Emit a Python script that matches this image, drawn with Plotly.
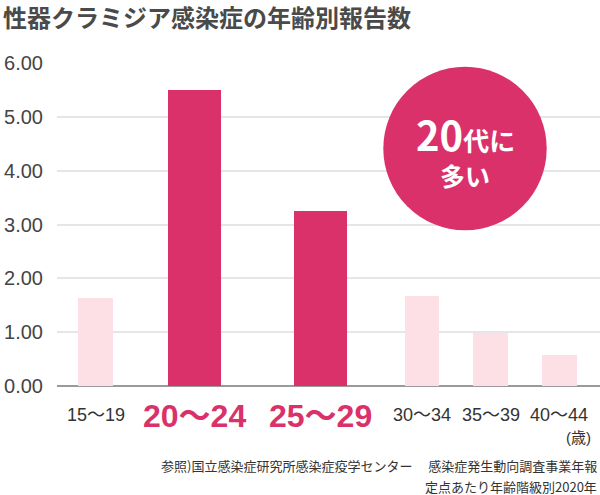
import plotly.graph_objects as go

# ---------------- data ----------------
categories = ["15～19", "20～24", "25～29", "30～34", "35～39", "40～44"]
values = [1.63, 5.49, 3.26, 1.68, 0.99, 0.57]
highlight = [False, True, True, False, False, False]
y_ticks = [0, 1, 2, 3, 4, 5, 6]
title_text = "性器クラミジア感染症の年齢別報告数"
badge_big = "20"
badge_rest = "代に"
badge_line2 = "多い"
unit_label = "(歳)"
source_lines = [
    "参照)国立感染症研究所感染症疫学センター　 感染症発生動向調査事業年報",
    "定点あたり年齢階級別2020年",
]

# ---------------- layout / style ----------------
W, H = 600, 495
L, R, T, B = 57, 0, 63, 109
PW, PH = W - L - R, H - T - B
slot_centers = [38.5, 137.3, 263.3, 365.2, 433.5, 502.3]   # axis units = px from plot left
DARK = "#DA316B"
LIGHT = "#FDDFE6"
TXT = "#444444"
FONT = "Liberation Sans, Noto Sans CJK JP, sans-serif"
CJK = "Noto Sans CJK JP, sans-serif"


def py(pix):
    """pixel row -> paper y"""
    return (H - B - pix) / PH


def px(pix):
    """pixel column -> paper x"""
    return (pix - L) / PW


fig = go.Figure()
fig.add_trace(go.Bar(
    x=slot_centers,
    y=values,
    width=[53 if h else 34.4 for h in highlight],
    marker=dict(color=[DARK if h else LIGHT for h in highlight], line=dict(width=0)),
    hoverinfo="skip",
))

annotations = []
for xc, cat, h in zip(slot_centers, categories, highlight):
    if h:
        annotations.append(dict(
            x=xc, xref="x", y=py(415.5), yref="paper", text="<b>%s</b>" % cat,
            showarrow=False, xanchor="center", yanchor="middle",
            font=dict(family=FONT, size=32, color=DARK)))
    else:
        annotations.append(dict(
            x=xc, xref="x", y=py(415), yref="paper", text=cat,
            showarrow=False, xanchor="center", yanchor="middle",
            font=dict(family=FONT, size=18, color="#333333")))

annotations.append(dict(
    x=px(578), xref="paper", y=py(437), yref="paper", text=unit_label,
    showarrow=False, xanchor="center", yanchor="middle",
    font=dict(family=FONT, size=15, color="#333333")))

for i, line in enumerate(source_lines):
    annotations.append(dict(
        x=px(599), xref="paper", y=py(465 + 21 * i), yref="paper", text=line,
        showarrow=False, xanchor="right", yanchor="middle",
        font=dict(family=CJK, size=13, color="#333333")))

annotations.append(dict(
    x=px(1), xref="paper", y=py(16), yref="paper",
    text="<b>%s</b>" % title_text, showarrow=False,
    xanchor="left", yanchor="middle",
    font=dict(family=CJK, size=24, color="#4A4A4A")))

# badge
cx, cy, r = 465, 148.5, 81.7
shapes = [dict(type="circle", xref="paper", yref="paper",
               x0=px(cx - r), x1=px(cx + r), y0=py(cy + r), y1=py(cy - r),
               fillcolor=DARK, line=dict(width=0), layer="above")]
annotations.append(dict(
    x=px(cx), xref="paper", y=py(134), yref="paper",
    text="<b><span style='font-size:40px'>%s</span>%s</b>" % (badge_big, badge_rest),
    showarrow=False, xanchor="center", yanchor="middle",
    font=dict(family=CJK, size=26, color="white")))
annotations.append(dict(
    x=px(cx), xref="paper", y=py(175), yref="paper",
    text="<b>%s</b>" % badge_line2,
    showarrow=False, xanchor="center", yanchor="middle",
    font=dict(family=CJK, size=25, color="white")))

fig.update_layout(
    width=W, height=H,
    margin=dict(l=L, r=R, t=T, b=B, pad=0),
    paper_bgcolor="white", plot_bgcolor="white",
    showlegend=False,
    bargap=0,
    xaxis=dict(range=[0, PW], showticklabels=False, showgrid=False,
               zeroline=False, showline=False, ticks="", fixedrange=True),
    yaxis=dict(range=[0, 6], tickvals=y_ticks, tickformat=".2f",
               showgrid=True, gridcolor="#E6E6E6", gridwidth=2,
               zeroline=True, zerolinecolor="#9A9A9A", zerolinewidth=2,
               showline=False, ticks="", ticklabelstandoff=13,
               tickfont=dict(family=FONT, size=20, color=TXT), fixedrange=True),
    shapes=shapes,
    annotations=annotations,
)

fig.write_html(
    "out.html",
    config={"displayModeBar": False},
    post_script="document.body.style.margin='0';document.body.style.overflow='hidden';",
)
